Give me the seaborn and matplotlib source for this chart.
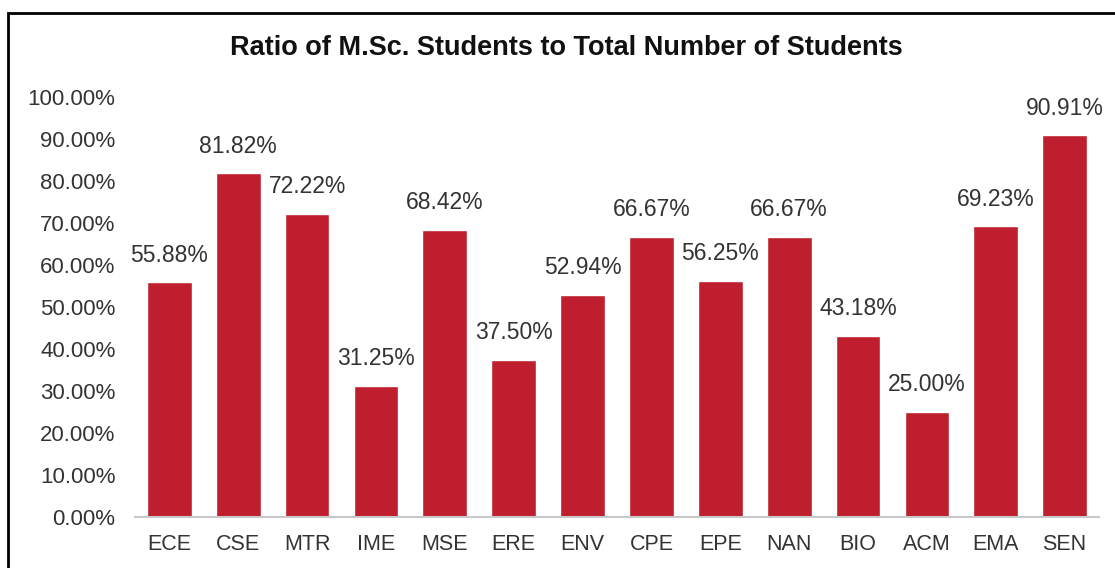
import matplotlib
matplotlib.use("Agg")
import matplotlib.pyplot as plt
import seaborn as sns
import pandas as pd
from matplotlib.patches import Rectangle
from matplotlib.ticker import PercentFormatter

programs = ['ECE', 'CSE', 'MTR', 'IME', 'MSE', 'ERE', 'ENV', 'CPE', 'EPE', 'NAN', 'BIO', 'ACM', 'EMA', 'SEN']
ratios = [55.88, 81.82, 72.22, 31.25, 68.42, 37.50, 52.94, 66.67, 56.25, 66.67, 43.18, 25.00, 69.23, 90.91]

data = pd.DataFrame({'Program': programs, 'Ratio': ratios})

sns.set_style('white')
plt.rcParams['font.family'] = ['Liberation Sans', 'DejaVu Sans']
text_color = '#333333'

fig = plt.figure(figsize=(11.15, 5.68), dpi=100)
ax = fig.add_axes([0.121, 0.0898, 0.8647, 0.7394])

sns.barplot(data=data, x='Program', y='Ratio', color='#BE1E2D', saturation=1,
            width=0.65, ax=ax)

for i, v in enumerate(ratios):
    ax.annotate(f'{v:.2f}%', (i, v), xytext=(0, 19.5), textcoords='offset points',
                ha='center', va='center', fontsize=16.5, color=text_color)

ax.set_ylim(0, 100)
ax.set_xlim(-0.5, len(programs) - 0.5)
ax.set_yticks(range(0, 101, 10))
ax.yaxis.set_major_formatter(PercentFormatter(decimals=2))
ax.set_xlabel('')
ax.set_ylabel('')
ax.tick_params(axis='y', labelsize=16, colors=text_color, length=0, pad=14)
ax.tick_params(axis='x', labelsize=15.5, colors=text_color, length=0, pad=12)
for side in ['top', 'right', 'left']:
    ax.spines[side].set_visible(False)
ax.spines['bottom'].set_color('#c8c8c8')
ax.spines['bottom'].set_linewidth(1.5)

fig.text(0.508, 0.916, 'Ratio of M.Sc. Students to Total Number of Students',
         ha='center', va='center', fontsize=19.5, fontweight='bold', color='#111111')

fig.patches.append(Rectangle((8 / 1115, -0.1), 1.2, 1.1 - 13 / 568,
                             transform=fig.transFigure, fill=False,
                             edgecolor='black', linewidth=2, clip_on=False))

fig.savefig('out.png', dpi=100)
